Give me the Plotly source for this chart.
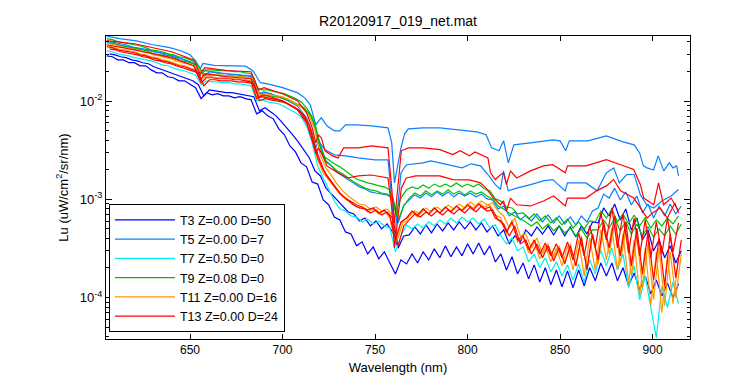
import plotly.graph_objects as go

# Wavelength grids (nm) of the densely sampled (noisy) casts:
# casts were read on a 3 nm step, half of them on a grid offset by 1.5 nm
wl = [605 + 3 * i for i in range(104)]
wl_off = [606.5 + 3 * i for i in range(104)]

# All Lu values below are in units of 1e-4 uW/cm^2/sr/nm
UNIT = 1e-4

# ---- T3 Z=0.00 D=50 (two casts)
t3_a = [289, 283, 263, 263, 246, 246, 229, 229, 208, 194,
        194, 177, 173, 161, 161, 147, 137, 106, 122, 116,
        119, 113, 113, 108, 111, 106, 103, 74.2, 79.6, 70.8,
        66.0, 52.2, 45.4, 35.0, 30.4, 23.5, 21.4, 15.0, 14.3, 9.85,
        8.76, 6.61, 6.17, 4.66, 4.44, 3.36, 3.69, 2.78, 3.28, 2.48,
        2.92, 2.25, 1.74, 2.42, 2.20, 2.78, 2.25, 2.92, 2.42, 3.13,
        2.54, 3.36, 2.60, 3.28, 2.66, 3.52, 2.78, 3.60, 2.72, 3.36,
        2.31, 2.78, 1.91, 2.60, 1.74, 2.25, 1.55, 2.15, 1.44, 2.01,
        1.35, 1.91, 1.29, 1.87, 1.26, 1.91, 1.32, 2.01, 1.48, 2.25,
        1.66, 2.25, 1.48, 2.01, 1.32, 1.78, 1.20, 1.66, 1.09, 1.51,
        1.04, 1.41, 0.995, 1.38]
t3_b = [303, 296, 283, 277, 263, 257, 246, 240, 224, 213,
        204, 194, 185, 177, 169, 161, 147, 113, 130, 127,
        124, 122, 122, 119, 116, 113, 111, 79.6, 85.5, 77.8,
        70.8, 61.5, 53.5, 45.4, 38.5, 31.9, 26.4, 19.5, 17.3, 13.0,
        11.3, 9.62, 8.56, 7.44, 7.10, 6.02, 6.46, 5.36, 6.02, 5.00,
        5.62, 4.66, 3.20, 4.24, 4.34, 5.23, 4.44, 5.49, 4.55, 5.62,
        4.77, 5.75, 4.88, 5.89, 5.00, 5.89, 4.88, 5.75, 4.66, 5.36,
        4.24, 4.88, 3.52, 4.24, 3.69, 4.88, 4.24, 5.23, 4.44, 5.36,
        4.34, 5.36, 4.24, 5.23, 4.14, 5.36, 4.44, 5.89, 5.75, 8.17,
        6.77, 8.97, 6.17, 7.98, 4.88, 6.46, 3.86, 4.88, 2.99, 3.86,
        2.54, 3.36, 2.25, 2.99]

# ---- T5 Z=0.00 D=7 (three casts; first two sampled more coarsely)
t5_a_wl = [605, 612, 621, 630, 639, 645, 650, 653, 655.5, 657,
           663, 672, 680, 684, 688, 692, 700, 708, 712, 715,
           718, 719.5, 721, 724, 728, 731, 734, 740, 748, 757,
           759, 760.5, 762, 764, 766, 768, 776, 785, 795, 805,
           810, 813, 817, 819.5, 822, 825, 834, 846, 850, 853,
           855, 865, 875, 884, 890, 893, 895, 897, 900.5, 903,
           906, 909, 911, 913, 914]
t5_a = [459, 433, 410, 375, 350, 326, 296, 257, 213, 242,
        231, 229, 227, 204, 154, 150, 137, 122, 108, 91.7,
        57.3, 63.0, 67.6, 56.0, 49.8, 49.8, 57.3, 57.3, 56.0, 53.5,
        37.6, 14.7, 20.9, 33.4, 46.4, 52.2, 53.5, 53.5, 51.0, 48.7,
        45.4, 33.4, 31.2, 39.4, 23.5, 35.9, 37.6, 40.3, 39.4, 31.2,
        39.4, 39.4, 44.3, 38.5, 35.9, 29.7, 21.9, 20.9, 19.9, 27.7,
        19.5, 23.5, 20.9, 21.9, 17.3]
t5_b_wl = [605, 620, 640, 652, 655.5, 658, 670, 683, 687, 690,
           700, 708, 713, 716, 718, 719.3, 721, 723, 728, 734,
           741, 750, 757, 759, 760.5, 762, 764, 766.9, 776, 780,
           785, 792, 797, 802, 807, 811, 815, 817.8, 819.4, 822,
           826.5, 834, 841, 846, 852.8, 854, 864, 870, 875, 879,
           882, 886, 890, 893.4, 896.8, 900.6, 905, 910, 914]
t5_b = [394, 350, 296, 240, 181, 204, 190, 181, 119, 124,
        108, 89.5, 67.6, 47.5, 33.4, 39.4, 36.1, 31.9, 28.4, 27.7,
        26.4, 25.2, 25.2, 10.3, 4.05, 7.27, 18.6, 22.5, 23.5, 24.6,
        23.5, 21.9, 20.9, 23.0, 21.9, 17.9, 14.1, 12.6, 19.5, 12.2,
        13.0, 14.1, 15.4, 15.9, 12.2, 14.7, 14.7, 12.2, 18.6, 20.9,
        14.7, 17.9, 17.9, 11.1, 8.8, 8.17, 9.62, 10.8, 12.6]
t5_c = [403, 394, 384, 375, 358, 350, 341, 333, 318, 311,
        296, 289, 277, 270, 257, 246, 229, 181, 199, 194,
        190, 190, 185, 185, 181, 181, 173, 119, 122, 119,
        113, 108, 103, 98.4, 91.7, 85.5, 74.2, 56.0, 35.9, 24.6,
        21.9, 19.0, 17.3, 15.8, 14.7, 13.4, 12.8, 11.9, 11.6, 11.3,
        11.1, 10.3, 5.75, 8.76, 9.85, 11.1, 10.3, 11.6, 10.6, 11.9,
        10.8, 11.9, 10.6, 11.6, 10.8, 11.6, 10.6, 11.3, 10.1, 9.85,
        7.98, 8.56, 6.77, 7.44, 6.17, 6.93, 6.02, 7.10, 5.89, 6.93,
        5.75, 6.77, 5.62, 6.61, 5.49, 6.77, 5.89, 7.61, 8.17, 11.3,
        10.3, 13.0, 9.85, 11.9, 8.76, 10.8, 7.27, 8.97, 6.46, 8.56,
        6.77, 8.97, 7.10, 8.56]

# ---- T7 Z=0.50 D=0
t7 = [326, 318, 303, 296, 289, 277, 270, 263, 257, 246,
      234, 229, 219, 208, 204, 194, 185, 147, 161, 157,
      157, 154, 154, 150, 150, 147, 143, 101, 103, 98.4,
      96.1, 93.9, 87.5, 81.5, 76.0, 69.2, 56.0, 37.6, 21.9, 16.5,
      12.5, 9.62, 7.98, 7.61, 6.77, 6.61, 5.89, 6.31, 5.62, 6.02,
      5.36, 5.11, 2.92, 4.24, 5.49, 5.00, 5.62, 5.11, 5.89, 5.36,
      6.17, 5.62, 6.46, 5.75, 6.61, 5.89, 6.46, 5.62, 6.31, 5.11,
      5.49, 4.24, 3.52, 4.05, 2.99, 3.28, 2.31, 2.78, 2.01, 2.54,
      1.83, 2.31, 1.66, 2.15, 1.51, 2.20, 1.44, 2.42, 1.74, 3.06,
      2.10, 3.20, 1.91, 2.78, 1.26, 2.10, 0.95, 1.66, 0.788, 0.389,
      1.32, 0.788, 1.44, 0.865]

# ---- T9 Z=0.08 D=0 (two casts)
t9_a = [433, 422, 403, 394, 384, 375, 366, 350, 333, 326,
        318, 303, 296, 283, 277, 263, 251, 204, 208, 208,
        204, 204, 204, 199, 199, 194, 190, 137, 130, 130,
        127, 122, 119, 113, 106, 98.4, 85.5, 69.2, 39.4, 27.7,
        25.2, 23.0, 21.4, 19.5, 17.7, 16.1, 15.4, 14.7, 14.3, 13.7,
        13.4, 12.5, 7.44, 10.3, 12.5, 13.4, 12.8, 14.0, 13.0, 14.3,
        13.4, 14.3, 13.4, 14.7, 13.4, 14.3, 13.4, 14.3, 12.8, 12.2,
        10.1, 9.62, 8.36, 8.17, 7.10, 7.27, 6.31, 7.10, 6.02, 6.77,
        5.75, 6.46, 5.49, 6.31, 5.11, 5.89, 5.00, 6.02, 5.89, 7.61,
        6.46, 7.98, 5.89, 7.10, 5.62, 6.93, 5.36, 6.46, 5.11, 6.17,
        5.36, 6.46, 5.62, 6.77]
t9_b = [394, 384, 366, 358, 350, 341, 333, 318, 303, 296,
        289, 277, 270, 257, 251, 240, 229, 181, 185, 185,
        181, 181, 181, 177, 177, 173, 169, 119, 113, 113,
        111, 108, 103, 98.4, 91.7, 85.5, 74.2, 60.1, 33.4, 24.1,
        21.9, 19.5, 18.2, 16.5, 15.0, 14.0, 13.0, 12.5, 12.2, 11.6,
        11.3, 10.6, 6.17, 8.56, 10.3, 11.6, 10.8, 12.2, 11.1, 12.2,
        11.3, 12.5, 11.3, 12.2, 11.1, 12.2, 11.3, 11.9, 10.8, 10.1,
        8.56, 7.98, 7.27, 6.77, 6.31, 5.89, 5.36, 5.89, 5.00, 5.62,
        4.77, 5.36, 4.55, 5.11, 4.24, 5.00, 4.05, 4.88, 4.88, 6.17,
        5.11, 6.46, 4.77, 5.89, 4.44, 5.62, 4.24, 5.23, 4.14, 5.00,
        4.24, 5.36, 4.44, 5.62]

# ---- T11 Z=0.00 D=16 (two casts)
t11_a = [366, 358, 341, 333, 326, 318, 303, 296, 283, 277,
         263, 257, 246, 234, 229, 219, 208, 165, 177, 177,
         173, 173, 173, 169, 169, 165, 161, 111, 111, 108,
         106, 103, 98.4, 91.7, 85.5, 77.8, 64.5, 44.3, 25.2, 18.6,
         15.8, 13.4, 11.3, 10.1, 9.18, 8.36, 8.36, 7.44, 7.98, 7.10,
         7.61, 6.46, 3.52, 5.75, 6.02, 7.44, 6.61, 7.98, 7.10, 8.17,
         7.27, 8.36, 7.61, 8.56, 7.80, 8.97, 8.17, 9.18, 8.36, 8.76,
         6.93, 6.46, 4.44, 6.17, 3.69, 4.14, 2.85, 3.77, 2.48, 3.36,
         2.31, 3.20, 2.10, 3.36, 1.91, 3.86, 1.66, 4.05, 1.91, 4.88,
         2.42, 5.11, 1.91, 4.44, 1.41, 3.86, 1.04, 3.20, 0.825, 2.92,
         0.700, 2.66, 0.865, 2.54]
t11_b = [384, 375, 358, 350, 341, 333, 318, 311, 296, 289,
         277, 270, 257, 246, 240, 229, 219, 173, 190, 185,
         185, 181, 181, 177, 177, 173, 169, 116, 119, 116,
         113, 111, 106, 98.4, 91.7, 83.5, 70.8, 51.0, 27.7, 20.9,
         17.3, 14.3, 12.2, 10.8, 9.85, 8.97, 8.76, 7.98, 8.36, 7.61,
         7.98, 6.93, 4.05, 6.17, 6.77, 7.61, 7.10, 8.17, 7.44, 8.36,
         7.61, 8.76, 7.98, 8.97, 8.17, 9.40, 8.56, 9.62, 8.76, 9.18,
         7.61, 6.77, 5.11, 6.46, 4.24, 4.44, 3.20, 4.05, 2.78, 3.52,
         2.54, 3.36, 2.25, 3.52, 2.10, 4.24, 1.91, 4.44, 2.20, 5.36,
         2.78, 5.75, 2.25, 4.88, 1.66, 4.24, 1.26, 3.52, 0.95, 3.20,
         0.825, 2.92, 0.995, 2.78]

# ---- T13 Z=0.00 D=24 (four casts; first two sampled more coarsely)
t13_a_wl = [605, 620, 640, 652, 655.5, 658, 670, 683, 687, 690,
            700, 708, 713, 716, 718, 719.3, 721, 723, 727, 730,
            733, 741, 748, 757, 759, 760.5, 762, 764.2, 768, 776,
            785, 792, 796, 801, 804, 807, 811, 812.4, 815, 817.8,
            819.4, 821, 823.2, 826.5, 834, 841, 846, 852.8, 854, 864,
            875, 882.7, 889.8, 893.4, 895.2, 900.6, 903.2, 905.9, 910, 914]
t13_a = [413, 384, 318, 263, 190, 219, 204, 199, 130, 137,
         119, 101, 76.0, 53.5, 37.6, 45.4, 42.3, 31.2, 27.7, 26.4,
         33.4, 33.4, 35.0, 33.4, 13.0, 5.75, 11.6, 31.2, 33.4, 33.4,
         32.1, 28.6, 31.2, 27.7, 30.4, 28.6, 26.4, 18.6, 15.9, 17.8,
         18.6, 14.1, 19.5, 16.5, 19.5, 21.9, 22.5, 18.6, 21.9, 21.9,
         25.4, 22.5, 20.1, 14.1, 10.3, 8.8, 14.7, 8.8, 10.3, 7.61]
t13_b_wl = [605, 620, 640, 652, 655.5, 658, 670, 683, 687, 690,
            700, 708, 713, 716, 718, 719.3, 721, 724, 730, 735,
            741, 748, 757, 759, 760.5, 762, 764.2, 766.9, 772, 785,
            792, 801, 807, 810, 814, 817.8, 819.4, 821, 823.2, 826.5,
            834, 841, 846.5, 852.8, 854, 864, 869.7, 875, 878.9, 882.7,
            889.8, 893.4, 897, 900, 904, 908, 912, 914]
t13_b = [375, 333, 277, 229, 165, 190, 177, 169, 111, 116,
         101, 81.5, 60.1, 40.3, 29.0, 33.4, 29.7, 21.9, 18.6, 16.5,
         17.3, 17.7, 16.5, 8.17, 3.20, 5.75, 13.0, 16.5, 17.3, 17.3,
         15.9, 15.8, 14.7, 13.0, 10.3, 8.8, 9.62, 7.61, 10.3, 8.8,
         8.56, 9.62, 10.8, 8.56, 10.3, 10.3, 12.2, 13.7, 15.9, 12.2,
         10.3, 8.17, 6.46, 7.27, 8.17, 6.46, 9.18, 7.27]
t13_c = [358, 350, 333, 326, 318, 311, 296, 289, 277, 270,
         257, 251, 240, 229, 224, 213, 204, 154, 173, 173,
         169, 169, 169, 165, 165, 161, 157, 106, 111, 108,
         106, 103, 98.4, 91.7, 85.5, 76.0, 61.5, 40.3, 26.4, 19.9,
         16.5, 13.7, 11.6, 10.3, 9.40, 8.76, 8.36, 7.80, 8.17, 7.27,
         7.80, 6.77, 3.86, 5.89, 6.46, 7.61, 6.93, 7.98, 7.10, 8.17,
         7.27, 8.36, 7.44, 8.56, 7.61, 8.76, 7.80, 8.97, 7.98, 8.36,
         6.46, 6.02, 4.66, 5.89, 3.86, 4.24, 3.06, 3.86, 2.78, 3.60,
         2.66, 3.52, 2.54, 3.69, 2.42, 4.55, 2.66, 5.36, 3.20, 7.27,
         3.86, 8.17, 3.20, 7.10, 2.85, 6.46, 2.66, 6.17, 2.54, 5.89,
         2.78, 6.46, 2.92, 5.75]
t13_d = [341, 333, 318, 311, 303, 296, 283, 277, 263, 257,
         246, 240, 229, 219, 213, 204, 194, 143, 165, 165,
         161, 161, 161, 157, 157, 154, 150, 101, 106, 103,
         101, 98.4, 93.9, 87.5, 81.5, 72.5, 57.3, 35.0, 24.1, 17.7,
         14.7, 12.5, 10.8, 9.62, 8.76, 8.17, 7.98, 7.27, 7.80, 6.93,
         7.44, 6.46, 3.36, 5.36, 6.17, 7.10, 6.61, 7.44, 6.77, 7.61,
         6.93, 7.80, 7.10, 7.98, 7.27, 8.36, 7.44, 8.56, 7.61, 7.80,
         6.17, 5.62, 4.24, 5.36, 3.52, 3.86, 2.78, 3.52, 2.54, 3.36,
         2.36, 3.20, 2.20, 3.36, 2.10, 4.05, 1.91, 4.44, 2.42, 5.89,
         3.20, 6.77, 2.66, 5.89, 2.10, 5.11, 1.74, 4.66, 1.51, 4.05,
         1.32, 4.44, 1.59, 3.86]

# Legend labels and colours
labels = ["T3 Z=0.00 D=50", "T5 Z=0.00 D=7", "T7 Z=0.50 D=0",
          "T9 Z=0.08 D=0", "T11 Z=0.00 D=16", "T13 Z=0.00 D=24"]
colors = ["#0000FF", "#0A80FF", "#00F0F0", "#00C000", "#FF9900", "#FF0000"]

# y-axis tick labels
y_tickvals = [1e-4, 1e-3, 1e-2]
y_ticktext = ["10<sup>-4</sup>", "10<sup>-3</sup>", "10<sup>-2</sup>"]
x_tickvals = [650, 700, 750, 800, 850, 900]

groups = [
    (0, [(wl, t3_a), (wl_off, t3_b)]),
    (1, [(t5_a_wl, t5_a), (t5_b_wl, t5_b), (wl_off, t5_c)]),
    (2, [(wl, t7)]),
    (3, [(wl, t9_a), (wl_off, t9_b)]),
    (4, [(wl, t11_a), (wl_off, t11_b)]),
    (5, [(t13_a_wl, t13_a), (t13_b_wl, t13_b), (wl, t13_c), (wl_off, t13_d)]),
]

fig = go.Figure()
for gi, casts in groups:
    for k, (x, y) in enumerate(casts):
        fig.add_trace(go.Scatter(
            x=x, y=[v * UNIT for v in y], mode="lines",
            line=dict(color=colors[gi], width=1.2),
            name=labels[gi], showlegend=(k == 0), hoverinfo="skip"))

minor_vals = [m * 10.0 ** e for e in (-5, -4, -3, -2) for m in range(2, 10)]

FONT = "Liberation Sans, Arial, Helvetica, sans-serif"
fig.update_layout(
    width=750, height=375,
    margin=dict(l=98, r=68, t=28, b=44, autoexpand=False),
    paper_bgcolor="white", plot_bgcolor="white",
    font=dict(family=FONT, size=12, color="black"),
    title=dict(text="R20120917_019_net.mat", x=0.5, xref="paper", xanchor="center",
               y=1 - 13 / 375, yref="container", yanchor="middle",
               font=dict(family=FONT, size=14, color="black"), automargin=False),
    legend=dict(x=0.005, y=0.022, xanchor="left", yanchor="bottom",
                bordercolor="black", borderwidth=1, bgcolor="white",
                font=dict(family=FONT, size=12.5, color="black"),
                itemwidth=60, tracegroupgap=0),
    showlegend=True,
)
fig.update_xaxes(
    range=[604.6, 920.2], showgrid=False, zeroline=False, automargin=False,
    showline=True, linecolor="black", linewidth=1, mirror="ticks",
    ticks="inside", ticklen=5, tickcolor="black", tickwidth=1,
    tickvals=x_tickvals, ticktext=[str(v) for v in x_tickvals],
    tickfont=dict(family=FONT, size=12, color="black"),
    title=dict(text="Wavelength (nm)", font=dict(family=FONT, size=13, color="black"), standoff=6),
)
fig.update_yaxes(
    type="log", range=[-4.422, -1.337], showgrid=False, zeroline=False, automargin=False,
    showline=True, linecolor="black", linewidth=1, mirror="ticks",
    ticks="inside", ticklen=6, tickcolor="black", tickwidth=1,
    tickvals=y_tickvals, ticktext=y_ticktext,
    tickfont=dict(family=FONT, size=13, color="black"),
    minor=dict(ticks="inside", ticklen=3, tickcolor="black", tickvals=minor_vals, showgrid=False),
    title=dict(text="Lu (uW/cm<sup>2</sup>/sr/nm)", font=dict(family=FONT, size=13, color="black"), standoff=8),
)

fig.write_html("out.html")
